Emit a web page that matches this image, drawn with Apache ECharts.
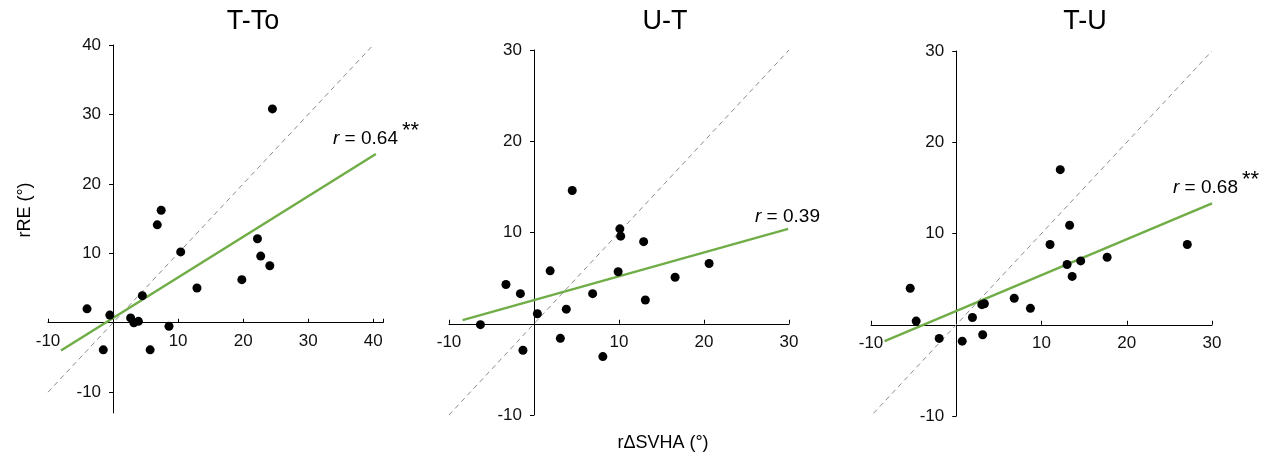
<!DOCTYPE html>
<html>
<head>
<meta charset="utf-8">
<script src="https://cdn.jsdelivr.net/npm/echarts@6/dist/echarts.min.js"></script>
<style>
html, body { margin: 0; padding: 0; background: #fff; }
#chart { width: 1266px; height: 457px; }
</style>
</head>
<body>
<div id="chart"></div>
<script>
// panel names and r values
var panelTitles = ['T-To', 'U-T', 'T-U'];
var rValues = ['0.64', '0.39', '0.68'];
var rStars = ['**', '', '**'];

// scatter points [rΔSVHA, rRE]
var pointsTTo = [
    [-4.0, 2.0], [-0.5, 1.1], [-1.5, -3.9], [2.7, 0.7], [3.2, 0.0], [3.9, 0.2],
    [4.5, 3.9], [5.7, -3.9], [6.8, 14.1], [7.4, 16.2], [8.6, -0.5], [10.4, 10.2],
    [12.9, 5.0], [19.8, 6.2], [22.2, 12.1], [22.7, 9.6], [24.1, 8.2], [24.5, 30.8]
];
var pointsUT = [
    [-6.3, -0.1], [-3.3, 4.3], [-1.6, 3.3], [-1.3, -2.9], [0.4, 1.1], [1.9, 5.8],
    [3.1, -1.6], [3.8, 1.6], [4.5, 14.6], [6.9, 3.3], [8.1, -3.6], [9.9, 5.7],
    [10.1, 10.4], [10.2, 9.6], [12.9, 9.0], [13.1, 2.6], [16.6, 5.1], [20.6, 6.6]
];
var pointsTU = [
    [-5.4, 4.0], [-4.7, 0.4], [-2.0, -1.5], [0.7, -1.8], [1.9, 0.8], [3.1, -1.1],
    [3.0, 2.2], [3.3, 2.3], [6.8, 2.9], [8.7, 1.8], [11.0, 8.8], [12.2, 17.0],
    [13.0, 6.6], [13.3, 10.9], [13.6, 5.3], [14.6, 7.0], [17.7, 7.4], [27.1, 8.8]
];

// regression line end points
var fitTTo = [[-8.0, -4.0], [40.4, 24.3]];
var fitUT = [[-8.4, 0.4], [29.9, 10.4]];
var fitTU = [[-8.4, -1.8], [30.0, 13.3]];

// identity (y = x) line end points
var identityTTo = [[-10, -10], [40, 40]];
var identityUT = [[-10, -10], [30, 30]];
var identityTU = [[-9.7, -9.7], [30, 30]];

// ticks and tick labels
var xTicksTTo = [-10, 0, 10, 20, 30, 40, 41.5];
var xLabelsTTo = [-10, 10, 20, 30, 40];
var yTicksTTo = [-10, 0, 10, 20, 30, 40];
var yLabelsTTo = [-10, 10, 20, 30, 40];
var xTicksUT = [-10, 0, 10, 20, 30];
var xLabelsUT = [-10, 10, 20, 30];
var yTicksUT = [-10, 0, 10, 20, 30];
var yLabelsUT = [-10, 10, 20, 30];

var FONT = '"Liberation Sans", Arial, sans-serif';

var dom = document.getElementById('chart');
var myChart = echarts.init(dom, null, { renderer: 'canvas' });

var grids = [
    { left: 48, top: 45, width: 335, height: 368 },
    { left: 449, top: 50, width: 340, height: 365 },
    { left: 871, top: 51, width: 341, height: 365 }
];

var ranges = [
    { xmin: -10, xmax: 41.5, ymin: -13, ymax: 40, xt: xTicksTTo, xl: xLabelsTTo, yt: yTicksTTo, yl: yLabelsTTo },
    { xmin: -10, xmax: 30, ymin: -10, ymax: 30, xt: xTicksUT, xl: xLabelsUT, yt: yTicksUT, yl: yLabelsUT },
    { xmin: -10, xmax: 30, ymin: -10, ymax: 30, xt: xTicksUT, xl: xLabelsUT, yt: yTicksUT, yl: yLabelsUT }
];

// the axes cross at zero: shift each axis from the grid edge to the zero line
var xAxes = [];
var yAxes = [];
ranges.forEach(function (r, i) {
    var g = grids[i];
    var xOff = -(0 - r.ymin) / (r.ymax - r.ymin) * g.height;
    var yOff = -(0 - r.xmin) / (r.xmax - r.xmin) * g.width;
    xAxes.push({
        type: 'value',
        gridIndex: i,
        min: r.xmin,
        max: r.xmax,
        position: 'bottom',
        offset: xOff,
        axisLine: { onZero: false, lineStyle: { color: '#000', width: 1 } },
        axisTick: { inside: true, length: 4, customValues: r.xt, lineStyle: { color: '#000' } },
        axisLabel: { customValues: r.xl, color: '#111', fontSize: 17, fontFamily: FONT, margin: 10 },
        splitLine: { show: false }
    });
    yAxes.push({
        type: 'value',
        gridIndex: i,
        min: r.ymin,
        max: r.ymax,
        position: 'left',
        offset: yOff,
        axisLine: { show: true, onZero: false, lineStyle: { color: '#000', width: 1 } },
        axisTick: { show: true, inside: false, length: 4, customValues: r.yt, lineStyle: { color: '#000' } },
        axisLabel: { customValues: r.yl, color: '#111', fontSize: 17, fontFamily: FONT, margin: 12 },
        splitLine: { show: false }
    });
});

var allPoints = [pointsTTo, pointsUT, pointsTU];
var allFits = [fitTTo, fitUT, fitTU];
var allIdentity = [identityTTo, identityUT, identityTU];

var series = [];
for (var i = 0; i < 3; i++) {
    series.push({
        type: 'line',
        xAxisIndex: i,
        yAxisIndex: i,
        data: allIdentity[i],
        symbol: 'none',
        silent: true,
        lineStyle: { color: '#8c8c8c', width: 1, type: [5, 4] },
        z: 1
    });
    series.push({
        type: 'line',
        xAxisIndex: i,
        yAxisIndex: i,
        data: allFits[i],
        symbol: 'none',
        silent: true,
        lineStyle: { color: '#70ad47', width: 2.5 },
        z: 2
    });
    series.push({
        type: 'scatter',
        xAxisIndex: i,
        yAxisIndex: i,
        data: allPoints[i],
        symbolSize: 9,
        itemStyle: { color: '#000', opacity: 1 },
        z: 3
    });
}

// text positions
var titleX = [253, 665, 1085];
var rPos = [[333, 139], [755, 217], [1173, 188]];
var graphics = [];
panelTitles.forEach(function (t, i) {
    graphics.push({
        type: 'text', x: titleX[i], y: 22,
        style: { text: t, font: '27px ' + FONT, fill: '#000', align: 'center', verticalAlign: 'middle' }
    });
    graphics.push({
        type: 'text', x: rPos[i][0], y: rPos[i][1],
        style: {
            text: '{i|r}{n| = ' + rValues[i] + '}',
            rich: {
                i: { fontStyle: 'italic', fontSize: 19, fontFamily: FONT, fill: '#000' },
                n: { fontSize: 19, fontFamily: FONT, fill: '#000' }
            },
            align: 'left', verticalAlign: 'middle'
        }
    });
    if (rStars[i]) {
        graphics.push({
            type: 'text', x: rPos[i][0] + 69, y: rPos[i][1] - 8,
            style: { text: rStars[i], font: '22px ' + FONT, fill: '#000', align: 'left', verticalAlign: 'middle' }
        });
    }
});
graphics.push({
    type: 'text', x: 25, y: 210, rotation: Math.PI / 2,
    style: { text: 'rRE (°)', font: '18px ' + FONT, fill: '#000', align: 'center', verticalAlign: 'middle' }
});
graphics.push({
    type: 'text', x: 663, y: 443,
    style: { text: 'rΔSVHA (°)', font: '18px ' + FONT, fill: '#000', align: 'center', verticalAlign: 'middle' }
});

var option = {
    animation: false,
    backgroundColor: '#fff',
    grid: grids,
    xAxis: xAxes,
    yAxis: yAxes,
    series: series,
    graphic: graphics
};

myChart.setOption(option);
</script>
</body>
</html>
